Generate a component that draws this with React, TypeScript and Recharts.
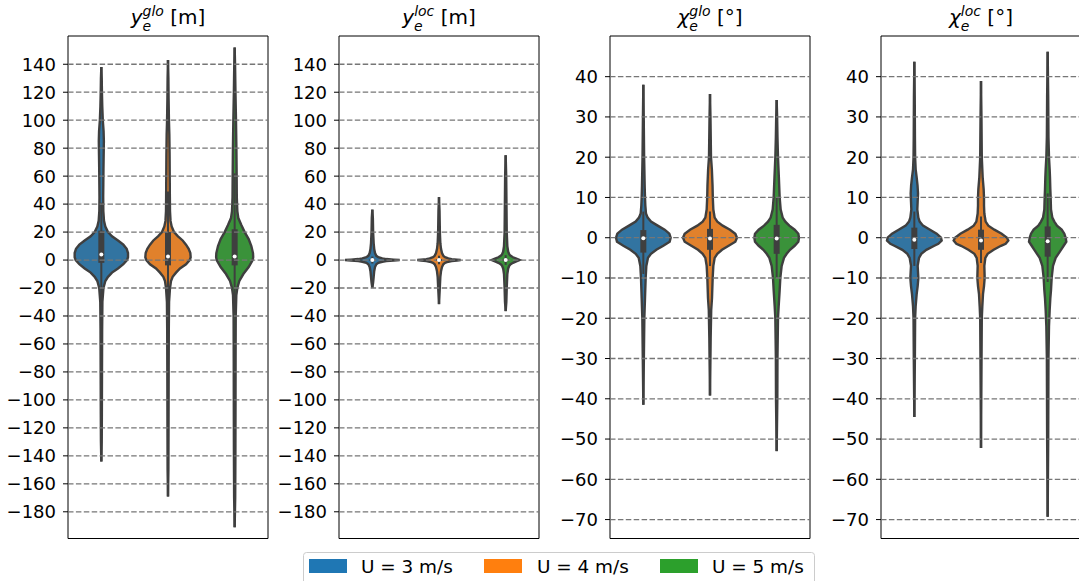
import {
  ComposedChart, Area, XAxis, YAxis,
  ReferenceLine, ReferenceDot, ReferenceArea,
} from 'recharts'

// Violin profiles: [value, half width in category units]
type Profile = Array<[number, number]>
// [lower whisker, q1, median, q3, upper whisker]
type Stats = [number, number, number, number, number]

const seriesNames = ['U = 3 m/s', 'U = 4 m/s', 'U = 5 m/s']
const violinFill = ['#3274a1', '#e1812c', '#3a923a']
const legendFill = ['#1f77b4', '#ff7f0e', '#2ca02c']

const metreTicks = [140, 120, 100, 80, 60, 40, 20, 0, -20, -40, -60, -80, -100, -120, -140, -160, -180]
const degreeTicks = [40, 30, 20, 10, 0, -10, -20, -30, -40, -50, -60, -70]

// y_e^glo [m]
const yGloU3: Profile = [
  [138, 0], [130, 0.006], [120, 0.009], [110, 0.014], [100, 0.022], [92, 0.034], [85, 0.038], [75, 0.035],
  [65, 0.032], [55, 0.03], [45, 0.028], [35, 0.03], [28, 0.04], [24, 0.06], [20, 0.1], [17, 0.16],
  [14, 0.25], [11, 0.33], [8, 0.38], [5, 0.4], [2, 0.4], [0, 0.385], [-3, 0.33], [-6, 0.25], [-9, 0.16],
  [-12, 0.1], [-15, 0.06], [-20, 0.032], [-30, 0.016], [-50, 0.012], [-80, 0.01], [-110, 0.008],
  [-130, 0.006], [-144, 0],
]
const yGloU4: Profile = [
  [143, 0], [130, 0.006], [115, 0.009], [100, 0.014], [90, 0.02], [75, 0.024], [60, 0.026], [45, 0.028],
  [35, 0.03], [28, 0.038], [24, 0.055], [20, 0.09], [17, 0.15], [14, 0.22], [11, 0.27], [8, 0.31],
  [5, 0.335], [2, 0.34], [0, 0.325], [-3, 0.27], [-6, 0.18], [-9, 0.12], [-12, 0.07], [-15, 0.045],
  [-20, 0.03], [-30, 0.016], [-50, 0.012], [-80, 0.01], [-120, 0.008], [-150, 0.006], [-169, 0],
]
const yGloU5: Profile = [
  [152, 0], [140, 0.006], [120, 0.012], [100, 0.02], [80, 0.026], [60, 0.03], [45, 0.032], [35, 0.04],
  [30, 0.055], [25, 0.1], [20, 0.15], [15, 0.21], [10, 0.25], [5, 0.275], [2, 0.278], [0, 0.27],
  [-5, 0.21], [-10, 0.13], [-15, 0.07], [-20, 0.04], [-25, 0.025], [-40, 0.016], [-70, 0.014],
  [-100, 0.013], [-140, 0.011], [-170, 0.008], [-191, 0],
]
const yGloStats: Stats[] = [[-33, -2, 4, 21, 41], [-38, -3.8, 2.6, 20, 49], [-38, -3.8, 2.6, 22, 62]]

// y_e^loc [m]
const yLocU3: Profile = [
  [36, 0], [30, 0.008], [20, 0.012], [12, 0.02], [8, 0.028], [5, 0.04], [3, 0.06], [2, 0.09], [1.2, 0.15],
  [0.7, 0.21], [0.3, 0.32], [0, 0.41], [-0.3, 0.32], [-0.7, 0.21], [-1.2, 0.15], [-2, 0.09], [-3, 0.06],
  [-5, 0.04], [-8, 0.028], [-12, 0.02], [-16, 0.012], [-20, 0],
]
const yLocU4: Profile = [
  [45, 0], [35, 0.008], [20, 0.013], [12, 0.02], [8, 0.03], [5, 0.045], [3, 0.065], [2, 0.09], [1.2, 0.14],
  [0.7, 0.19], [0.3, 0.27], [0, 0.325], [-0.3, 0.27], [-0.7, 0.19], [-1.2, 0.14], [-2, 0.09], [-3, 0.065],
  [-5, 0.045], [-8, 0.03], [-12, 0.02], [-20, 0.012], [-31.5, 0],
]
const yLocU5: Profile = [
  [75, 0], [60, 0.008], [40, 0.012], [20, 0.016], [10, 0.025], [6, 0.038], [4, 0.055], [3, 0.075], [2, 0.11],
  [1, 0.16], [0, 0.21], [-1, 0.16], [-2, 0.11], [-3, 0.075], [-4, 0.055], [-6, 0.038], [-10, 0.025],
  [-20, 0.016], [-30, 0.01], [-36.5, 0],
]
const yLocStats: Stats[] = [[-2.5, -0.6, 0, 0.6, 2.5], [-3, -0.7, 0, 0.7, 3], [-3.5, -0.8, 0.1, 0.9, 3.5]]

// chi_e^glo [deg]
const chiGloU3: Profile = [
  [38, 0], [30, 0.006], [20, 0.012], [13, 0.02], [10, 0.025], [8, 0.03], [6, 0.04], [5, 0.065], [4, 0.115],
  [3, 0.215], [2, 0.32], [1, 0.39], [0, 0.41], [-1, 0.395], [-2, 0.3], [-3, 0.195], [-4, 0.115], [-5, 0.07],
  [-7, 0.045], [-10, 0.035], [-15, 0.025], [-20, 0.015], [-30, 0.008], [-41.5, 0],
]
const chiGloU4: Profile = [
  [35.7, 0], [30, 0.007], [20, 0.015], [17, 0.028], [13, 0.038], [10, 0.042], [7, 0.05], [5, 0.07], [4, 0.11],
  [3, 0.19], [2, 0.3], [1, 0.38], [0, 0.405], [-1, 0.38], [-2, 0.28], [-3, 0.18], [-4, 0.11], [-5, 0.07],
  [-7, 0.05], [-10, 0.04], [-15, 0.03], [-18, 0.018], [-25, 0.01], [-39.2, 0],
]
const chiGloU5: Profile = [
  [34.2, 0], [30, 0.007], [25, 0.012], [20, 0.02], [15, 0.033], [10, 0.045], [7, 0.06], [5, 0.09], [4, 0.13],
  [3, 0.19], [2, 0.27], [1, 0.325], [0, 0.335], [-1, 0.325], [-2, 0.27], [-3, 0.2], [-4, 0.15], [-5, 0.11],
  [-7, 0.075], [-10, 0.055], [-13, 0.045], [-17, 0.03], [-20, 0.02], [-30, 0.012], [-40, 0.01], [-53, 0],
]
const chiGloStats: Stats[] = [[-9, -3.7, -0.1, 1.9, 6.5], [-7, -3, -0.2, 2.2, 6.5], [-10, -4, -0.2, 3.2, 10]]

// chi_e^loc [deg]
const chiLocU3: Profile = [
  [43.7, 0], [35, 0.006], [25, 0.009], [20, 0.012], [17, 0.02], [15, 0.035], [13, 0.048], [11, 0.055],
  [9, 0.05], [7, 0.045], [5, 0.06], [4, 0.08], [3, 0.13], [2, 0.235], [1, 0.335], [0, 0.4], [-0.7, 0.41],
  [-1.5, 0.36], [-2, 0.3], [-3, 0.18], [-4, 0.105], [-5, 0.07], [-7, 0.05], [-8.5, 0.055], [-10, 0.06],
  [-12, 0.05], [-14, 0.035], [-17, 0.02], [-20, 0.012], [-30, 0.008], [-44.5, 0],
]
const chiLocU4: Profile = [
  [38.9, 0], [30, 0.007], [20, 0.012], [15, 0.025], [12, 0.04], [10, 0.045], [8, 0.045], [6, 0.05], [4, 0.07],
  [3, 0.11], [2, 0.2], [1, 0.31], [0, 0.39], [-0.7, 0.41], [-1.5, 0.37], [-2, 0.3], [-3, 0.19], [-4, 0.1],
  [-5, 0.065], [-7, 0.05], [-10, 0.055], [-12, 0.045], [-14, 0.03], [-17, 0.02], [-20, 0.012], [-30, 0.008],
  [-52.2, 0],
]
const chiLocU5: Profile = [
  [46.2, 0], [35, 0.008], [25, 0.012], [20, 0.02], [17, 0.03], [15, 0.035], [12, 0.04], [10, 0.045], [7, 0.05],
  [5, 0.07], [4, 0.1], [3, 0.14], [2, 0.21], [1, 0.25], [0, 0.27], [-1, 0.28], [-2, 0.24], [-3, 0.2],
  [-4, 0.16], [-5, 0.12], [-7, 0.08], [-10, 0.06], [-13, 0.05], [-15, 0.04], [-18, 0.03], [-22, 0.02],
  [-30, 0.012], [-50, 0.008], [-69.3, 0],
]
const chiLocStats: Stats[] = [[-7, -2.8, -0.5, 2.5, 6.5], [-6.3, -3, -0.7, 2, 5.3], [-11, -4.7, -0.9, 2.8, 11]]

const FONT = 'DejaVu Sans'
const AXIS_W = 68
const PLOT_W = 200
const INK = '#3f3f3f'

const panels = [
  { left: 68, sym: 'y', sup: 'glo', unit: ' [m]', violins: [yGloU3, yGloU4, yGloU5], stats: yGloStats, ticks: metreTicks, domain: [-199.1, 160.2] },
  { left: 339, sym: 'y', sup: 'loc', unit: ' [m]', violins: [yLocU3, yLocU4, yLocU5], stats: yLocStats, ticks: metreTicks, domain: [-199.1, 160.2] },
  { left: 610, sym: 'χ', sup: 'glo', unit: ' [°]', violins: [chiGloU3, chiGloU4, chiGloU5], stats: chiGloStats, ticks: degreeTicks, domain: [-74.7, 50.1] },
  { left: 881, sym: 'χ', sup: 'loc', unit: ' [°]', violins: [chiLocU3, chiLocU4, chiLocU5], stats: chiLocStats, ticks: degreeTicks, domain: [-74.7, 50.1] },
]

const fmt = (v: number) => (v < 0 ? '\u2212' + Math.abs(v) : String(v))

function ViolinPanel({ p }: { p: typeof panels[number] }) {
  const [lo, hi] = p.domain
  return (
    <div style={{ position: 'absolute', left: p.left - AXIS_W, top: 0 }}>
      <ComposedChart
        layout="vertical"
        width={AXIS_W + PLOT_W + 4}
        height={581}
        margin={{ top: 36, right: 4, bottom: 42.5, left: 0 }}
      >
        <XAxis type="number" domain={[-0.5, 2.5]} hide allowDataOverflow />
        <YAxis
          type="number"
          dataKey="v"
          domain={[lo, hi]}
          reversed
          ticks={p.ticks}
          interval={0}
          allowDataOverflow
          width={AXIS_W}
          axisLine={false}
          tickLine={{ stroke: '#000', strokeWidth: 1 }}
          tickSize={5}
          tickMargin={7}
          tick={{ fontSize: 18, fill: '#000', fontFamily: FONT }}
          tickFormatter={fmt}
        />
        {p.violins.map((profile, i) => (
          <Area
            key={'v' + i}
            data={profile.map(([v, w]) => ({ v, range: [i - w, i + w] }))}
            dataKey="range"
            type="linear"
            fill={violinFill[i]}
            fillOpacity={1}
            stroke={INK}
            strokeWidth={2.4}
            dot={false}
            activeDot={false}
            isAnimationActive={false}
          />
        ))}
        {p.stats.map(([wl, , , , wh], i) => (
          <ReferenceLine key={'w' + i} segment={[{ x: i, y: wl }, { x: i, y: wh }]} stroke={INK} strokeWidth={2} />
        ))}
        {p.stats.map(([, q1, , q3], i) => (
          <ReferenceLine key={'b' + i} segment={[{ x: i, y: q1 }, { x: i, y: q3 }]} stroke={INK} strokeWidth={6} />
        ))}
        {p.ticks.map((t) => (
          <ReferenceLine key={'g' + t} y={t} stroke="#767676" strokeWidth={1.3} strokeDasharray="5.5 2.4" />
        ))}
        {p.stats.map(([, , med], i) => (
          <ReferenceDot key={'m' + i} x={i} y={med} r={2} fill="#fff" stroke="none" />
        ))}
        <ReferenceArea x1={-0.5} x2={2.5} y1={lo} y2={hi} fill="none" stroke="#000" strokeWidth={1} />
      </ComposedChart>
    </div>
  )
}

export default function App() {
  return (
    <div style={{ position: 'absolute', left: 0, top: 0, width: 1079, height: 581, overflow: 'hidden', background: '#fff' }}>
      {panels.map((p, i) => <ViolinPanel key={i} p={p} />)}
      <svg width={1079} height={36} style={{ position: 'absolute', left: 0, top: 0 }}>
        {panels.map((p, i) => (
          <text key={i} x={p.left + PLOT_W / 2} y={24} textAnchor="middle" fontFamily={FONT} fontSize={20} fill="#000" style={{ whiteSpace: 'pre' }}>
            <tspan fontStyle="italic">{p.sym}</tspan>
            <tspan fontStyle="italic" fontSize={14} dy={6.5}>e</tspan>
            <tspan fontStyle="italic" fontSize={14} dx={-8.6} dy={-14.5}>{p.sup}</tspan>
            <tspan dy={8}>{p.unit}</tspan>
          </text>
        ))}
      </svg>
      <svg width={512} height={29} style={{ position: 'absolute', left: 303, top: 552 }}>
        <rect x={0.5} y={0.5} width={511} height={40} rx={3} fill="#fff" stroke="#cccccc" />
        {seriesNames.map((name, i) => (
          <g key={name}>
            <rect x={[6, 181, 357][i]} y={7} width={38} height={14} fill={legendFill[i]} />
            <text x={[58, 234, 409][i]} y={20.7} fontFamily={FONT} fontSize={18.4} fill="#000">{name}</text>
          </g>
        ))}
      </svg>
    </div>
  )
}
